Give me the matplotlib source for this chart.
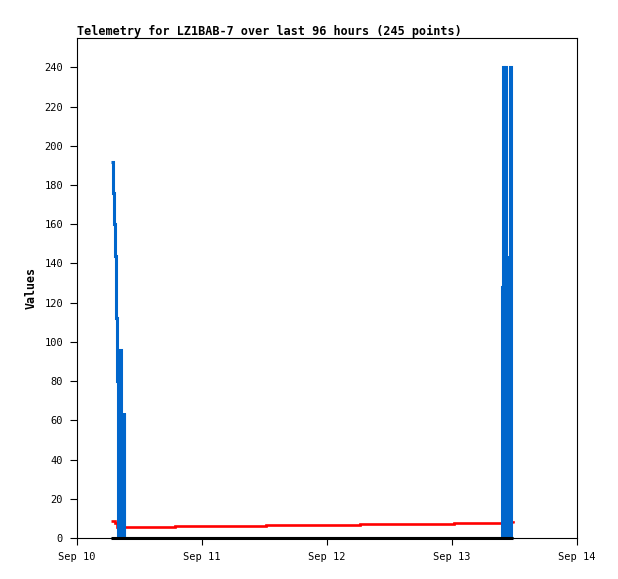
import pandas as pd
import matplotlib
matplotlib.use("Agg")
import matplotlib.pyplot as plt
import matplotlib.dates as mdates

# hours after Sep 10 00:00
start = pd.Timestamp("2023-09-10")

blue_hours = [6.62, 6.91, 7.10, 7.30, 7.49, 7.68, 7.83, 7.97, 8.12, 8.26, 8.45, 8.70, 8.83, 8.93, 9.08,
              45.0,
              81.55, 81.75, 81.85, 82.05, 82.2, 82.35, 82.55, 82.65, 82.8, 82.9, 83.0, 83.1, 83.25, 83.7]
blue_vals = [192, 176, 160, 144, 112, 80, 0, 32, 0, 96, 0, 54, 0, 64, 0,
             0,
             128, 0, 240, 0, 240, 48, 0, 128, 0, 144, 0, 240, 0, 0]

red_hours = [6.62, 7.2, 7.6, 18.9, 36.3, 54.3, 72.4, 83.3, 83.7, 83.8]
red_vals = [8.8, 7.8, 5.8, 6.3, 6.8, 7.3, 7.8, 8.3, 7.8, 7.8]

black_hours = [6.62, 83.7]
black_vals = [0, 0]

x_ticks = ["2023-09-10", "2023-09-11", "2023-09-12", "2023-09-13", "2023-09-14"]
y_ticks = list(range(0, 241, 20))


def to_time(hours):
    return [start + pd.Timedelta(hours=h) for h in hours]


fig = plt.figure(figsize=(6.18, 5.79), dpi=100)
ax = fig.add_axes([77 / 618, 1 - 538 / 579, 500 / 618, 500 / 579])

ax.step(to_time(red_hours), red_vals, where="post", color="#ff0000", lw=1.9,
        solid_capstyle="butt", solid_joinstyle="miter")
ax.step(to_time(blue_hours), blue_vals, where="post", color="#0066cc", lw=2.2,
        solid_capstyle="butt", solid_joinstyle="miter")
ax.step(to_time(black_hours), black_vals, where="post", color="black", lw=2.2,
        solid_capstyle="butt", clip_on=False)

ax.set_xlim(pd.Timestamp(x_ticks[0]), pd.Timestamp(x_ticks[-1]))
ax.set_ylim(0, 255)
ax.set_xticks([pd.Timestamp(t) for t in x_ticks])
ax.xaxis.set_major_formatter(mdates.DateFormatter("%b %d"))
ax.set_yticks(y_ticks)

ax.tick_params(direction="out", length=5, width=0.8, labelsize=7.5, pad=5)
for lbl in ax.get_xticklabels() + ax.get_yticklabels():
    lbl.set_family("DejaVu Sans Mono")
for s in ax.spines.values():
    s.set_linewidth(0.8)

ax.set_ylabel("Values", family="DejaVu Sans Mono", fontweight="bold", fontsize=8.4, labelpad=5)
ax.set_title("Telemetry for LZ1BAB-7 over last 96 hours (245 points)", loc="left",
             family="DejaVu Sans Mono", fontweight="bold", fontsize=8.45, pad=2)

plt.savefig("out.png", dpi=100)
